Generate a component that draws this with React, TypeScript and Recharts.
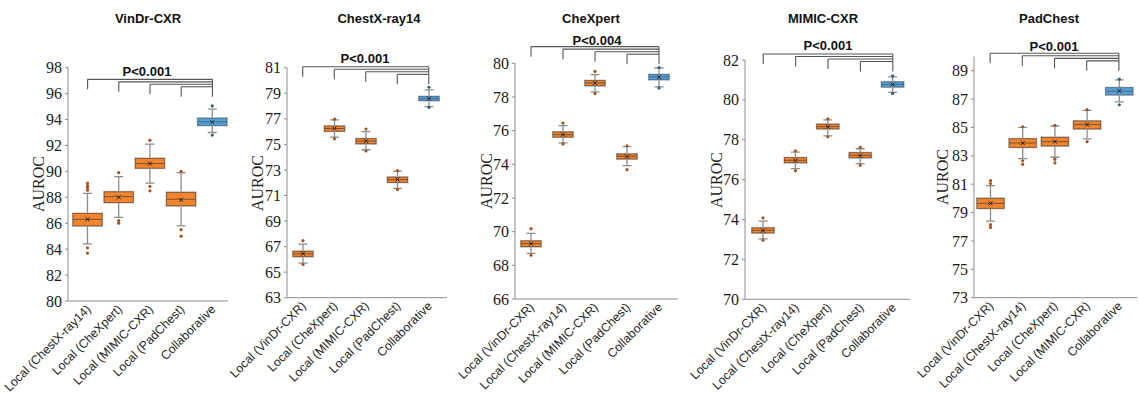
import React from "react";
import { ComposedChart, Bar, XAxis, YAxis, ReferenceLine } from "recharts";

// ---- VinDr-CXR ----
const vindrCats = ["Local (ChestX-ray14)", "Local (CheXpert)", "Local (MIMIC-CXR)", "Local (PadChest)", "Collaborative"];
const vindrLow = [84.4, 86.45, 89.1, 85.8, 93.0];
const vindrQ1 = [85.8, 87.6, 90.25, 87.35, 93.55];
const vindrMed = [86.3, 88.05, 90.6, 87.85, 93.82];
const vindrQ3 = [86.75, 88.42, 91.0, 88.38, 94.1];
const vindrHigh = [88.3, 89.6, 92.1, 89.9, 94.8];
const vindrMean = [86.3, 88.0, 90.6, 87.8, 93.8];
const vindrOut = [[89.1, 88.9, 88.75, 88.55, 84.1, 83.7], [89.9, 86.2, 86.0], [92.4, 88.85, 88.5], [90.0, 85.5, 85.0], [95.05, 92.8]];
const vindrTicks = [80, 82, 84, 86, 88, 90, 92, 94, 96, 98];

// ---- ChestX-ray14 ----
const chestCats = ["Local (VinDr-CXR)", "Local (CheXpert)", "Local (MIMIC-CXR)", "Local (PadChest)", "Collaborative"];
const chestLow = [65.7, 75.56, 74.58, 71.56, 77.96];
const chestQ1 = [66.22, 76.03, 75.05, 72.03, 78.43];
const chestMed = [66.43, 76.24, 75.26, 72.24, 78.58];
const chestQ3 = [66.63, 76.43, 75.44, 72.43, 78.74];
const chestHigh = [67.2, 76.92, 76.0, 72.9, 79.26];
const chestMean = [66.45, 76.24, 75.25, 72.25, 78.58];
const chestOut = [[67.47, 65.6], [76.97, 75.43], [76.2, 74.48], [72.95, 71.46], [79.47, 77.9]];
const chestTicks = [63, 65, 67, 69, 71, 73, 75, 77, 79, 81];

// ---- CheXpert ----
const chexCats = ["Local (VinDr-CXR)", "Local (ChestX-ray14)", "Local (MIMIC-CXR)", "Local (PadChest)", "Collaborative"];
const chexLow = [68.71, 75.27, 78.3, 73.92, 78.6];
const chexQ1 = [69.11, 75.62, 78.67, 74.32, 79.03];
const chexMed = [69.29, 75.76, 78.83, 74.48, 79.19];
const chexQ3 = [69.45, 75.92, 78.97, 74.61, 79.33];
const chexHigh = [69.9, 76.3, 79.33, 75.05, 79.72];
const chexMean = [69.28, 75.77, 78.82, 74.46, 79.18];
const chexOut = [[70.18, 68.6], [76.45, 75.2], [79.52, 78.2], [75.1, 73.68], [79.75, 78.53]];
const chexTicks = [66, 68, 70, 72, 74, 76, 78, 80];

// ---- MIMIC-CXR ----
const mimicCats = ["Local (VinDr-CXR)", "Local (ChestX-ray14)", "Local (CheXpert)", "Local (PadChest)", "Collaborative"];
const mimicLow = [73.03, 76.55, 78.2, 76.8, 80.38];
const mimicQ1 = [73.33, 76.85, 78.55, 77.1, 80.65];
const mimicMed = [73.46, 76.97, 78.66, 77.22, 80.77];
const mimicQ3 = [73.58, 77.1, 78.78, 77.35, 80.9];
const mimicHigh = [73.92, 77.38, 79.0, 77.55, 81.15];
const mimicMean = [73.45, 76.96, 78.65, 77.2, 80.77];
const mimicOut = [[74.08, 72.96], [77.45, 76.45], [79.05, 78.15], [77.62, 76.72], [81.2, 80.32]];
const mimicTicks = [70, 72, 74, 76, 78, 80, 82];

// ---- PadChest ----
const padCats = ["Local (VinDr-CXR)", "Local (ChestX-ray14)", "Local (CheXpert)", "Local (MIMIC-CXR)", "Collaborative"];
const padLow = [78.4, 82.8, 82.9, 84.2, 86.8];
const padQ1 = [79.3, 83.6, 83.7, 84.9, 87.3];
const padMed = [79.65, 83.9, 84.0, 85.2, 87.55];
const padQ3 = [80.0, 84.2, 84.3, 85.45, 87.8];
const padHigh = [80.9, 85.0, 85.1, 86.2, 88.35];
const padMean = [79.65, 83.9, 84.0, 85.2, 87.58];
const padOut = [[81.25, 81.05, 78.15, 77.95], [85.05, 82.65, 82.4], [85.15, 82.75, 82.5], [86.25, 84.0], [88.4, 86.6]];
const padTicks = [73, 75, 77, 79, 81, 83, 85, 87, 89];

// significance brackets: top level, spacing between levels, leg length (AUROC units)
const bracketTop = [97.1, 81.08, 80.99, 82.3, 90.23];
const bracketStep = [0.19, 0.2, 0.15, 0.125, 0.18];
const bracketLeg = [0.77, 0.78, 0.6, 0.5, 0.7];

const titles = ["VinDr-CXR", "ChestX-ray14", "CheXpert", "MIMIC-CXR", "PadChest"];
const pValues = ["P<0.001", "P<0.001", "P<0.004", "P<0.001", "P<0.001"];

const build = (cats, low, q1, med, q3, high, mean, out) =>
  cats.map((name, i) => ({
    name,
    range: [low[i], high[i]],
    min: low[i],
    q1: q1[i],
    median: med[i],
    q3: q3[i],
    max: high[i],
    mean: mean[i],
    outliers: out[i],
  }));

const panels = [
  { data: build(vindrCats, vindrLow, vindrQ1, vindrMed, vindrQ3, vindrHigh, vindrMean, vindrOut), ticks: vindrTicks, domain: [80, 98] },
  { data: build(chestCats, chestLow, chestQ1, chestMed, chestQ3, chestHigh, chestMean, chestOut), ticks: chestTicks, domain: [63, 81] },
  { data: build(chexCats, chexLow, chexQ1, chexMed, chexQ3, chexHigh, chexMean, chexOut), ticks: chexTicks, domain: [66, 80] },
  { data: build(mimicCats, mimicLow, mimicQ1, mimicMed, mimicQ3, mimicHigh, mimicMean, mimicOut), ticks: mimicTicks, domain: [70, 82] },
  { data: build(padCats, padLow, padQ1, padMed, padQ3, padHigh, padMean, padOut), ticks: padTicks, domain: [73, 90] },
];

const layouts = [
  { left: 0, width: 232, ml: 28, mr: 4, mt: 67.7, bottom: 301, padL: 4, padR: 0, barSize: 29, titleX: 148, pX: 147, pY: 71.5, yLabelX: 39 },
  { left: 232, width: 218, ml: 15, mr: 3, mt: 67.7, bottom: 297.7, padL: 0, padR: 2.5, barSize: 20, titleX: 379, pX: 365, pY: 58.7, yLabelX: 258 },
  { left: 450, width: 230, ml: 25, mr: 2, mt: 63.3, bottom: 299, padL: 0, padR: 3, barSize: 20, titleX: 591, pX: 597, pY: 40.5, yLabelX: 487 },
  { left: 680, width: 232, ml: 25, mr: 2, mt: 60, bottom: 299.3, padL: 2, padR: 1, barSize: 22, titleX: 823, pX: 828, pY: 45.5, yLabelX: 717 },
  { left: 912, width: 227, ml: 22, mr: 2, mt: 56.5, bottom: 297.7, padL: 0, padR: 2, barSize: 27, titleX: 1049, pX: 1054, pY: 46.5, yLabelX: 943 },
];

const SANS = '"Liberation Sans", Arial, sans-serif';
const SERIF = '"Liberation Serif", "Times New Roman", serif';
const AXIS = "#8c8c8c";

function BoxShape(props) {
  const { x, y, width, height, payload } = props;
  if (!payload) return null;
  const [lo, hi] = payload.range;
  const top = Math.min(y, y + height);
  const h = Math.abs(height);
  const py = (v) => top + ((hi - v) / (hi - lo)) * h;
  const cx = x + width / 2;
  const collab = payload.name === "Collaborative";
  const fill = collab ? "#5A9FD3" : "#F08530";
  const edge = collab ? "#3f6d92" : "#7d5030";
  const dot = collab ? "#2f5f86" : "#a8521a";
  const cap = 4.5;
  const yq3 = py(payload.q3);
  const yq1 = py(payload.q1);
  const ym = py(payload.mean);
  return (
    <g>
      <line x1={cx} x2={cx} y1={py(payload.max)} y2={yq1} stroke={AXIS} strokeWidth={1.3} />
      <line x1={cx} x2={cx} y1={yq3} y2={py(payload.min)} stroke={AXIS} strokeWidth={1.3} />
      <line x1={cx - cap} x2={cx + cap} y1={py(payload.max)} y2={py(payload.max)} stroke={AXIS} strokeWidth={1.3} />
      <line x1={cx - cap} x2={cx + cap} y1={py(payload.min)} y2={py(payload.min)} stroke={AXIS} strokeWidth={1.3} />
      <rect x={x} y={yq3} width={width} height={yq1 - yq3} fill={fill} stroke="#b5b5b5" strokeWidth={2} />
      <rect x={x} y={yq3} width={width} height={yq1 - yq3} fill={fill} stroke={edge} strokeWidth={0.8} />
      <line x1={x} x2={x + width} y1={py(payload.median)} y2={py(payload.median)} stroke={edge} strokeWidth={1} />
      <path d={`M${cx - 2} ${ym - 2}L${cx + 2} ${ym + 2}M${cx - 2} ${ym + 2}L${cx + 2} ${ym - 2}`} stroke="#222" strokeWidth={1} />
      {payload.outliers.map((v, i) => (
        <circle key={i} cx={cx} cy={py(v)} r={1.6} fill={dot} />
      ))}
    </g>
  );
}

function XTick(props) {
  const { x, y, payload } = props;
  const ax = x + 4;
  const ay = y + 7;
  return (
    <text
      x={ax}
      y={ay}
      transform={`rotate(-45 ${ax} ${ay})`}
      textAnchor="end"
      fontFamily={SANS}
      fontSize={12.3}
      fill="#262626"
    >
      {payload.value}
    </text>
  );
}

function YTick(props) {
  const { x, y, payload } = props;
  return (
    <text x={x} y={y} dy="0.35em" textAnchor="end" fontFamily={SERIF} fontSize={16} fill="#1a1a1a">
      {payload.value}
    </text>
  );
}

function Panel({ idx }) {
  const p = panels[idx];
  const l = layouts[idx];
  const cats = p.data.map((d) => d.name);
  const last = cats[cats.length - 1];
  const levels = cats.slice(0, -1).map((_, i) => bracketTop[idx] - i * bracketStep[idx]);
  const leg = bracketLeg[idx];
  const lowest = levels[levels.length - 1] - leg;
  return (
    <div style={{ position: "absolute", left: l.left, top: 0 }}>
      <ComposedChart
        width={l.width}
        height={398}
        data={p.data}
        margin={{ top: l.mt, right: l.mr, bottom: 398 - l.bottom - 90, left: l.ml }}
      >
        <XAxis
          dataKey="name"
          type="category"
          height={90}
          interval={0}
          tickLine={false}
          tickSize={0}
          axisLine={{ stroke: AXIS }}
          padding={{ left: l.padL, right: l.padR }}
          tick={<XTick />}
        />
        <YAxis
          type="number"
          domain={p.domain}
          ticks={p.ticks}
          interval={0}
          allowDataOverflow
          width={40}
          tickSize={3}
          tickMargin={3}
          axisLine={{ stroke: AXIS }}
          tickLine={{ stroke: AXIS }}
          tick={<YTick />}
        />
        <Bar dataKey="range" barSize={l.barSize} shape={<BoxShape />} isAnimationActive={false} />
        {levels.map((lv, i) => (
          <ReferenceLine
            key={`h${i}`}
            segment={[{ x: cats[i], y: lv }, { x: last, y: lv }]}
            stroke="#555"
            strokeWidth={1.1}
            ifOverflow="visible"
          />
        ))}
        {levels.map((lv, i) => (
          <ReferenceLine
            key={`v${i}`}
            segment={[{ x: cats[i], y: lv }, { x: cats[i], y: lv - leg }]}
            stroke="#555"
            strokeWidth={1.1}
            ifOverflow="visible"
          />
        ))}
        <ReferenceLine
          segment={[{ x: last, y: levels[0] }, { x: last, y: lowest }]}
          stroke="#555"
          strokeWidth={1.1}
          ifOverflow="visible"
        />
      </ComposedChart>
    </div>
  );
}

const textBox = (cx, cy, extra) => ({
  position: "absolute",
  left: cx - 100,
  top: cy - 9,
  width: 200,
  height: 18,
  lineHeight: "18px",
  textAlign: "center",
  ...extra,
});

export default function App() {
  return (
    <div style={{ position: "absolute", left: 0, top: 0, width: 1139, height: 398, background: "#fff", overflow: "hidden" }}>
      <style>{`.recharts-surface{overflow:visible}`}</style>
      {panels.map((_, i) => (
        <Panel key={i} idx={i} />
      ))}
      {layouts.map((l, i) => (
        <React.Fragment key={`t${i}`}>
          <div style={textBox(l.titleX, 19, { fontFamily: SANS, fontWeight: "bold", fontSize: 13, color: "#111" })}>{titles[i]}</div>
          <div style={textBox(l.pX, l.pY, { fontFamily: SANS, fontWeight: "bold", fontSize: 13, color: "#111" })}>{pValues[i]}</div>
          <div
            style={{
              ...textBox(l.yLabelX, (l.mt + l.bottom) / 2, { fontFamily: SERIF, fontSize: 16, color: "#222" }),
              transform: "rotate(-90deg)",
            }}
          >
            AUROC
          </div>
        </React.Fragment>
      ))}
    </div>
  );
}
